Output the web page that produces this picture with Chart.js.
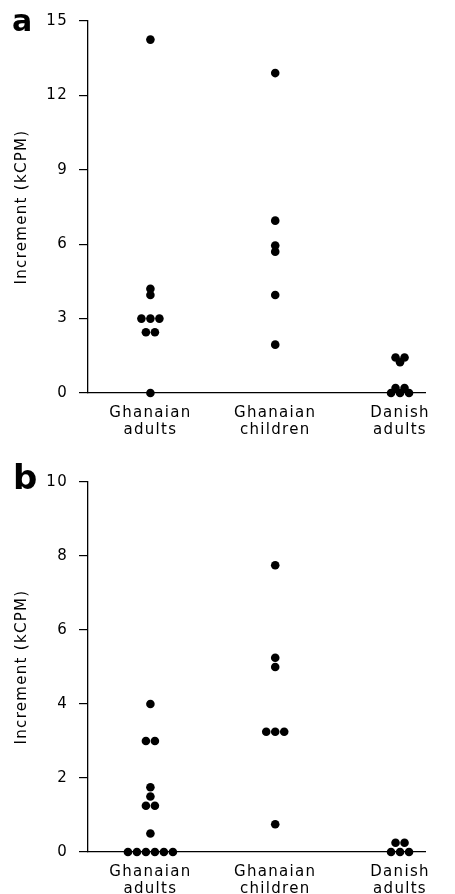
<!DOCTYPE html>
<html>
<head>
<meta charset="utf-8">
<script src="https://cdn.jsdelivr.net/npm/chart.js@4/dist/chart.umd.min.js"></script>
<style>
  body { margin: 0; background: #fff; }
  #wrap { position: relative; width: 455px; height: 894px; }
  canvas { position: absolute; left: 0; }
  .panel-letter {
    position: absolute;
    font-family: "DejaVu Sans", sans-serif;
    font-weight: bold;
    line-height: 1;
    color: #000;
  }
</style>
</head>
<body>
<div id="wrap">
  <canvas id="panelA" width="455" height="447" style="top:0"></canvas>
  <canvas id="panelB" width="455" height="447" style="top:447px"></canvas>
  <div class="panel-letter" style="left:12px;top:6px;font-size:30px">a</div>
  <div class="panel-letter" style="left:13px;top:460px;font-size:34px">b</div>
</div>
<script>
// categories
const groupLabels = [["Ghanaian", "adults"], ["Ghanaian", "children"], ["Danish", "adults"]];
const yTitle = "Increment (kCPM)";

// panel a values (kCPM)
const aGhanaianAdults = [14.25, 4.2, 3.95, 3, 3, 3, 2.45, 2.45, 0];
const aGhanaianChildren = [12.9, 6.95, 5.95, 5.7, 3.95, 1.95];
const aDanishAdults = [1.43, 1.43, 1.24, 0.2, 0.2, 0, 0, 0];
const aTicks = [0, 3, 6, 9, 12, 15];

// panel b values (kCPM)
const bGhanaianAdults = [4, 3, 3, 1.75, 1.5, 1.25, 1.25, 0.5, 0, 0, 0, 0, 0, 0];
const bGhanaianChildren = [7.75, 5.25, 5, 3.25, 3.25, 3.25, 0.75];
const bDanishAdults = [0.25, 0.25, 0, 0, 0];
const bTicks = [0, 2, 4, 6, 8, 10];

const DOT_STEP = 0.072; // horizontal spacing of tied dots, in category units

Chart.defaults.font.family = "'DejaVu Sans', sans-serif";
Chart.defaults.font.size = 15;
Chart.defaults.color = "#000";

const letterSpacing = {
    id: "letterSpacing",
    beforeLayout(chart) { chart.ctx.letterSpacing = "1.3px"; },
    beforeDraw(chart) { chart.ctx.letterSpacing = "1.3px"; },
};

// spread dots with equal values side by side, centred on the category
function swarm(values, center) {
    const counts = {};
    values.forEach(v => counts[v] = (counts[v] || 0) + 1);
    const seen = {};
    return values.map(v => {
        seen[v] = (seen[v] === undefined) ? 0 : seen[v] + 1;
        return { x: center + (seen[v] - (counts[v] - 1) / 2) * DOT_STEP, y: v };
    });
}

function buildPanel(canvasId, seriesList, ticks, topPad, xHeight) {
    const ctx = document.getElementById(canvasId).getContext("2d");
    return new Chart(ctx, {
        type: "scatter",
        data: {
            datasets: seriesList.map((values, i) => ({
                data: swarm(values, i + 1),
                backgroundColor: "#000",
                borderWidth: 0,
                pointRadius: 4.3,
                pointHoverRadius: 4.3,
                clip: false,
            }))
        },
        plugins: [letterSpacing],
        options: {
            responsive: false,
            animation: false,
            events: [],
            layout: { padding: { top: topPad, right: 30, left: 0, bottom: 0 } },
            plugins: { legend: { display: false }, tooltip: { enabled: false } },
            scales: {
                x: {
                    type: "linear",
                    min: 0.5,
                    max: 3.2,
                    afterBuildTicks: (axis) => {
                        axis.ticks = groupLabels.map((_, i) => ({ value: i + 1 }));
                    },
                    afterFit: (axis) => { axis.height = xHeight; },
                    grid: { display: false },
                    border: { display: true, color: "#000", width: 1.3 },
                    ticks: {
                        autoSkip: false,
                        maxRotation: 0,
                        padding: 4,
                        font: { size: 15, lineHeight: 1.12 },
                        callback: (value) => groupLabels[value - 1] || "",
                    },
                },
                y: {
                    min: ticks[0],
                    max: ticks[ticks.length - 1],
                    afterBuildTicks: (axis) => {
                        axis.ticks = ticks.map(v => ({ value: v }));
                    },
                    afterFit: (axis) => { axis.width = 88; },
                    grid: {
                        display: true,
                        drawOnChartArea: false,
                        drawTicks: true,
                        tickLength: 9,
                        color: "#000",
                        lineWidth: 1.2,
                    },
                    border: { display: true, color: "#000", width: 1.3 },
                    ticks: { padding: 11, font: { size: 15 } },
                    title: {
                        display: true,
                        text: yTitle,
                        font: { size: 15 },
                        padding: { top: 13, bottom: 0 },
                    },
                },
            },
        },
    });
}

buildPanel("panelA", [aGhanaianAdults, aGhanaianChildren, aDanishAdults], aTicks, 21, 54);
buildPanel("panelB", [bGhanaianAdults, bGhanaianChildren, bDanishAdults], bTicks, 35, 42);
</script>
</body>
</html>
